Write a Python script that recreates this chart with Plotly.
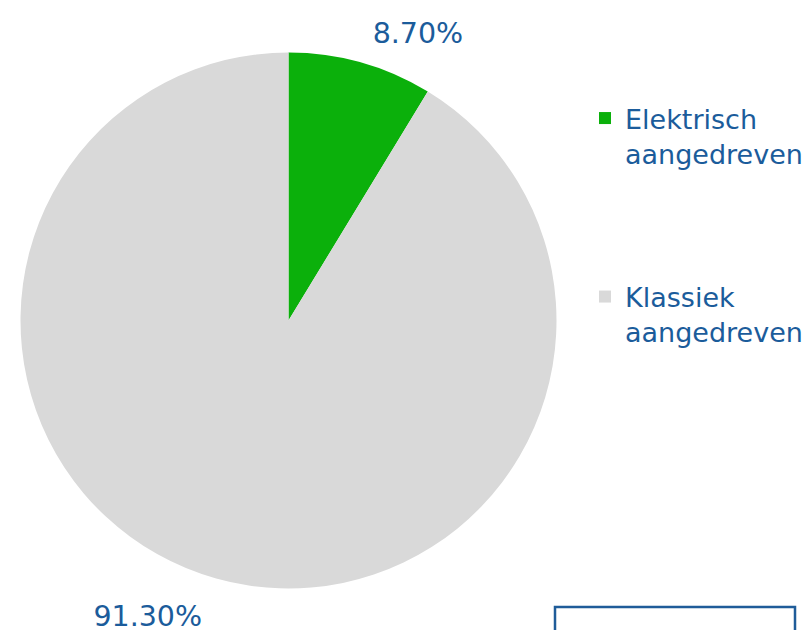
import plotly.graph_objects as go

labels = ["Elektrisch<br>aangedreven", "Klassiek<br>aangedreven"]
values = [8.70, 91.30]
colors = ["#0bb00b", "#d9d9d9"]

text_color = "#1b5c9b"
W, H = 812, 630

# small blank lines push each outside label a bit further away from the pie
pct = "<span style='font-size:28.5px'>%{percent:.2%}</span>"
label_templates = [pct + "<br> ", " <br> <br>" + pct]

fig = go.Figure(go.Pie(
    labels=[l + "<br> <br> <br> " for l in labels],
    values=values,
    marker=dict(colors=colors, line=dict(width=0)),
    sort=False,
    direction="clockwise",
    rotation=0,
    texttemplate=label_templates,
    textposition="outside",
    outsidetextfont=dict(color=text_color, size=14),
    showlegend=True,
    hoverinfo="skip",
    domain=dict(x=[12.5 / W, 548.5 / W], y=[1 - 580.5 / H, 1 - 44.5 / H]),
))

# box partially visible at the bottom right (page has an 8px body margin)
fig.add_shape(type="rect", xref="paper", yref="paper",
              x0=547 / W, x1=787 / W, y0=-0.1, y1=1 - 599 / H,
              line=dict(color="#1f5c99", width=2.5))

fig.update_layout(
    width=W, height=H,
    margin=dict(l=0, r=0, t=0, b=0),
    paper_bgcolor="white",
    font=dict(family="DejaVu Sans", color=text_color, size=27),
    legend=dict(x=577 / W, y=1 - 86 / H, xanchor="left", yanchor="top",
                valign="top", font=dict(size=27, color=text_color),
                bgcolor="rgba(0,0,0,0)"),
)

fig.write_html("out.html")
